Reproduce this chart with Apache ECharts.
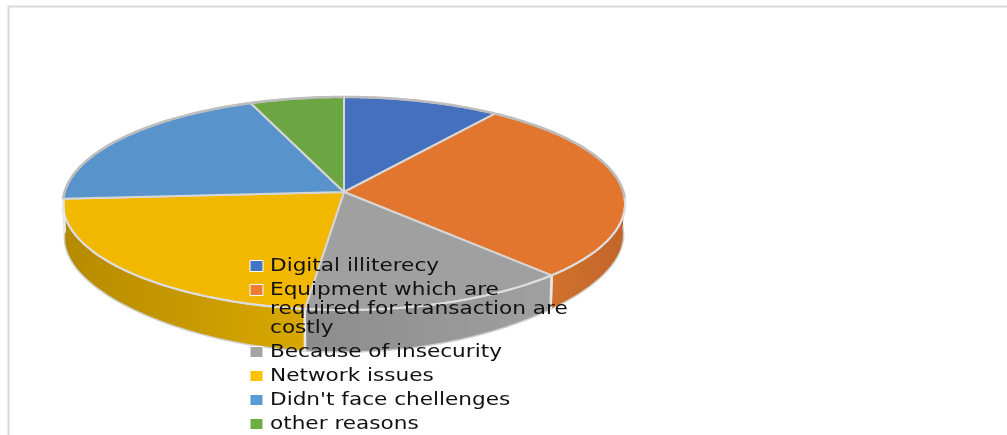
<!DOCTYPE html>
<html>
<head>
<meta charset="utf-8">
<style>html,body{margin:0;padding:0;background:#fff}#chart{width:1007px;height:435px}</style>
<script src="https://cdn.jsdelivr.net/npm/echarts@6/dist/echarts.min.js"></script>
</head>
<body>
<div id="chart"></div>
<script>
const categories = [
  'Digital illiterecy',
  'Equipment which are\nrequired for transaction are\ncostly',
  'Because of insecurity',
  'Network issues',
  "Didn't face chellenges",
  'other reasons'
];
const shares = [10, 28, 14, 22, 20, 6];
const legendColors = ['#4472C4', '#ED7D31', '#A5A5A5', '#FFC000', '#5B9BD5', '#70AD47'];
const faceColors = ['#4470BD', '#E2762E', '#A0A0A0', '#F2B800', '#5893CB', '#6CA643'];
const wallDark = ['#34558f', '#c2652a', '#8c8c8c', '#b68a00', '#44709a', '#507a32'];
const wallLight = ['#3f66ad', '#d0722c', '#a0a0a0', '#d8a800', '#5086b8', '#62963e'];

// Perspective disc: apex, half extents and foreshortening of the top face
const disc = { cx: 344, cy: 192, rx: 279.4, ry: 105.3, k: 0.108 };
const total = shares.reduce((a, b) => a + b, 0);

function rimPoint(deg) {
  const t = deg * Math.PI / 180;
  const X = Math.sin(t), Y = Math.cos(t);
  const w = 1 + disc.k * Y;
  return [disc.cx + disc.rx * X / w, disc.cy - disc.ry * Y / w, Y, X];
}
function lowerPoint(deg) {
  const p = rimPoint(deg);
  const Y = p[2], X = p[3];
  // the lower edge drifts inward and the wall grows towards the viewer
  const toward = Y < 0 ? Y * Y * Y * Y : 0;
  const depth = 31 + 11 * toward + (X < 0 ? 3 * -X : 0);
  return [disc.cx + (p[0] - disc.cx) * 0.995, p[1] + depth];
}
function arcAngles(a, b) {
  const out = [];
  for (let d = a; d < b; d += 1) out.push(d);
  out.push(b);
  return out;
}
const flat = p => [p[0], p[1]];

function sliceRenderer(index, startDeg, endDeg) {
  return function () {
    const children = [];
    // Visible wall: only the part of the rim that faces the viewer
    const a = Math.max(startDeg, 92), b = Math.min(endDeg, 268);
    if (b > a) {
      const upper = arcAngles(a, b).map(rimPoint).map(flat);
      const lower = arcAngles(a, b).map(lowerPoint).reverse();
      children.push({
        type: 'polygon',
        shape: { points: upper.concat(lower) },
        style: {
          fill: new echarts.graphic.LinearGradient(0, 0, 1, 0, [
            { offset: 0, color: index === 1 ? wallLight[index] : wallDark[index] },
            { offset: 1, color: index === 1 ? wallDark[index] : wallLight[index] }
          ])
        }
      });
      children.push({
        type: 'polyline',
        shape: { points: lower },
        style: { fill: null, stroke: '#cfcfcf', lineWidth: 1.5 }
      });
      // Pale seams where two walls meet
      [[a, startDeg], [b, endDeg]].forEach(([d, edge]) => {
        if (d === edge) {
          children.push({
            type: 'line',
            shape: { x1: rimPoint(d)[0], y1: rimPoint(d)[1], x2: lowerPoint(d)[0], y2: lowerPoint(d)[1] },
            style: { stroke: '#e8e8e8', lineWidth: 2.5 }
          });
        }
      });
    }
    const rim = arcAngles(startDeg, endDeg).map(rimPoint).map(flat);
    children.push({
      type: 'polygon',
      shape: { points: [[disc.cx, disc.cy]].concat(rim) },
      style: { fill: faceColors[index], stroke: '#d6d6d6', lineWidth: 2, lineJoin: 'round' }
    });
    // The rim reads darker at the back and pale along the front edge
    const back = arcAngles(startDeg, endDeg).map(rimPoint).filter(p => p[2] > -0.1).map(flat);
    const front = arcAngles(startDeg, endDeg).map(rimPoint).filter(p => p[2] <= -0.05).map(flat);
    if (back.length > 1) {
      children.push({ type: 'polyline', shape: { points: back }, style: { fill: null, stroke: '#bdbdbd', lineWidth: 2.5 } });
    }
    if (front.length > 1) {
      children.push({ type: 'polyline', shape: { points: front }, style: { fill: null, stroke: '#dedede', lineWidth: 2 } });
    }
    return { type: 'group', children };
  };
}

let running = 0;
const series = categories.map((name, i) => {
  const startDeg = running / total * 360;
  running += shares[i];
  const endDeg = running / total * 360;
  return {
    type: 'custom',
    name,
    coordinateSystem: 'none',
    silent: true,
    animation: false,
    itemStyle: { color: legendColors[i] },
    data: [shares[i]],
    renderItem: sliceRenderer(i, startDeg, endDeg)
  };
});

// Legend column: swatch plus a slightly widened label, wrapped lines stay under the first
const legendItems = [];
let rowTop = 257;
categories.forEach((name, i) => {
  legendItems.push({
    type: 'rect', z: 20, silent: true,
    shape: { x: 250, y: rowTop + 3.5, width: 13, height: 11 },
    style: { fill: legendColors[i], stroke: '#ffffff', lineWidth: 1 }
  });
  legendItems.push({
    type: 'text', z: 20, silent: true,
    x: 270, y: rowTop, scaleX: 1.2,
    style: {
      text: name,
      font: '18px "DejaVu Sans"',
      lineHeight: 19,
      fill: '#111111',
      verticalAlign: 'top'
    }
  });
  rowTop += 24 + 19 * (name.split('\n').length - 1);
});

const chart = echarts.init(document.getElementById('chart'), null, { renderer: 'canvas' });
chart.setOption({
  animation: false,
  backgroundColor: '#fff',
  graphic: [{
    type: 'rect', z: 0, silent: true,
    shape: { x: 8.5, y: 6.5, width: 1100, height: 500 },
    style: { fill: '#fff', stroke: '#d9d9d9', lineWidth: 2 }
  }].concat(legendItems),
  series
});
</script>
</body>
</html>
